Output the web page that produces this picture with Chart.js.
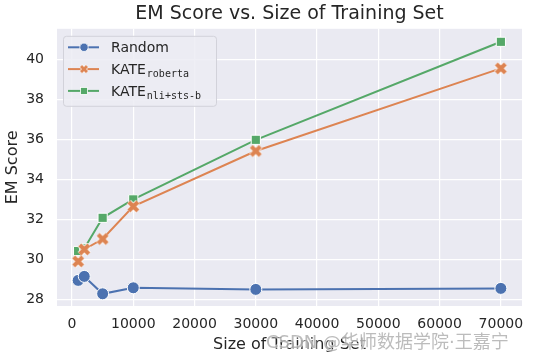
<!DOCTYPE html>
<html lang="zh-CN">
<head>
  <meta charset="UTF-8">
  <title>EM Score vs. Size of Training Set</title>
  <script src="https://cdn.jsdelivr.net/npm/chart.js"></script>
  <style>
    html, body { margin: 0; padding: 0; background: #ffffff; }
    #wrap { width: 534px; height: 360px; position: relative; }
  </style>
</head>
<body>
  <div id="wrap"><canvas id="emChart" width="534" height="360"></canvas></div>

  <script>
    // training set sizes
    const sizes = [1000, 2000, 5000, 10000, 30000, 70000];
    // EM scores
    const randomScores  = [28.95, 29.15, 28.28, 28.58, 28.5, 28.55];
    const robertaScores = [29.9, 30.5, 31.02, 32.65, 35.42, 39.55];
    const nliScores     = [30.42, 30.55, 32.08, 33.0, 35.98, 40.88];
    const xTicks = [0, 10000, 20000, 30000, 40000, 50000, 60000, 70000];
    const yTicks = [28, 30, 32, 34, 36, 38, 40];

    const BLUE = '#4c72b0', ORANGE = '#dd8452', GREEN = '#55a868';
    const FONT = "'DejaVu Sans', sans-serif";
    const TEXT = '#262626';

    // thick "X" marker like matplotlib's 'X', with a white edge
    function makeX(size, color, thick) {
      const c = document.createElement('canvas');
      c.width = size; c.height = size;
      const g = c.getContext('2d');
      const p = size * 0.2, q = size - p;
      g.lineCap = 'butt';
      [['#ffffff', size * (thick + 0.1)], [color, size * thick]].forEach(([col, w]) => {
        g.strokeStyle = col; g.lineWidth = w;
        g.beginPath();
        g.moveTo(p, p); g.lineTo(q, q);
        g.moveTo(q, p); g.lineTo(p, q);
        g.stroke();
      });
      return c;
    }
    const xMarker = makeX(15, ORANGE, 0.28);
    const xMarkerSmall = makeX(10, ORANGE, 0.3);

    const toPoints = ys => sizes.map((s, i) => ({ x: s, y: ys[i] }));

    const bgPlugin = {
      id: 'bg',
      beforeDraw(chart) {
        const { ctx, chartArea: a } = chart;
        ctx.save();
        ctx.fillStyle = '#eaeaf2';
        ctx.fillRect(a.left, a.top, a.right - a.left, a.bottom - a.top);
        ctx.restore();
      }
    };

    // legend with subscripts, drawn over the lines
    const legendRows = [
      { main: 'Random', sub: '', color: BLUE, marker: 'circle' },
      { main: 'KATE', sub: 'roberta', color: ORANGE, marker: 'x' },
      { main: 'KATE', sub: 'nli+sts-b', color: GREEN, marker: 'square' }
    ];
    const legendPlugin = {
      id: 'subLegend',
      afterDatasetsDraw(chart) {
        const ctx = chart.ctx;
        const a = chart.chartArea;
        const bx = a.left + 6, by = a.top + 7, bw = 153, bh = 70;
        ctx.save();
        ctx.beginPath();
        ctx.roundRect(bx + 0.5, by + 0.5, bw, bh, 3);
        ctx.fillStyle = 'rgba(236,236,243,0.85)';
        ctx.fill();
        ctx.strokeStyle = '#d2d2da';
        ctx.lineWidth = 1;
        ctx.stroke();
        legendRows.forEach((r, i) => {
          const cy = by + 11.5 + i * 21.8;
          const lx = bx + 5;
          ctx.strokeStyle = r.color;
          ctx.lineWidth = 2;
          ctx.beginPath();
          ctx.moveTo(lx, cy); ctx.lineTo(lx + 31, cy);
          ctx.stroke();
          const mx = lx + 16;
          ctx.fillStyle = r.color;
          if (r.marker === 'circle') {
            ctx.beginPath(); ctx.arc(mx, cy, 4.2, 0, Math.PI * 2); ctx.fill();
            ctx.strokeStyle = '#fff'; ctx.lineWidth = 0.8; ctx.stroke();
          } else if (r.marker === 'square') {
            ctx.fillRect(mx - 3.5, cy - 3.5, 7, 7);
            ctx.strokeStyle = '#fff'; ctx.lineWidth = 0.8;
            ctx.strokeRect(mx - 3.5, cy - 3.5, 7, 7);
          } else {
            ctx.drawImage(xMarkerSmall, mx - 5, cy - 5);
          }
          ctx.fillStyle = TEXT;
          ctx.textBaseline = 'alphabetic';
          ctx.textAlign = 'left';
          ctx.font = '14px ' + FONT;
          const tx = lx + 43, ty = cy + 5;
          ctx.fillText(r.main, tx, ty);
          if (r.sub) {
            const w = ctx.measureText(r.main).width;
            ctx.font = "10px 'DejaVu Sans Mono', monospace";
            ctx.fillText(r.sub, tx + w + 1, ty + 3);
          }
        });
        ctx.restore();
      }
    };

    const watermarkPlugin = {
      id: 'watermark',
      afterDraw(chart) {
        const ctx = chart.ctx;
        const mark = 'CSDN @华师数据学院·王嘉宁';
        ctx.save();
        ctx.font = "18px 'DejaVu Sans', 'Noto Sans CJK SC', sans-serif";
        ctx.textAlign = 'left';
        ctx.textBaseline = 'alphabetic';
        ctx.lineWidth = 2;
        ctx.strokeStyle = 'rgba(255,255,255,0.6)';
        ctx.strokeText(mark, 266, 348);
        ctx.fillStyle = 'rgba(160,160,160,0.7)';
        ctx.fillText(mark, 266, 348);
        ctx.restore();
      }
    };

    const lineStyle = color => ({
      borderColor: color,
      backgroundColor: color,
      borderWidth: 2,
      pointBorderColor: '#ffffff',
      pointBorderWidth: 1,
      tension: 0,
      fill: false
    });

    const ctx = document.getElementById('emChart').getContext('2d');
    new Chart(ctx, {
      type: 'line',
      data: {
        datasets: [
          Object.assign({ label: 'Random', data: toPoints(randomScores),
            pointStyle: 'circle', pointRadius: 6 }, lineStyle(BLUE)),
          Object.assign({ label: 'KATE roberta', data: toPoints(robertaScores),
            pointStyle: xMarker, pointRadius: 7 }, lineStyle(ORANGE)),
          Object.assign({ label: 'KATE nli+sts-b', data: toPoints(nliScores),
            pointStyle: 'rect', pointRadius: 6.5 }, lineStyle(GREEN))
        ]
      },
      options: {
        responsive: false,
        animation: false,
        events: [],
        layout: { padding: { left: 0, right: 12, top: 0, bottom: 0 } },
        plugins: {
          legend: { display: false },
          tooltip: { enabled: false },
          title: {
            display: true,
            fullSize: false,
            text: 'EM Score vs. Size of Training Set',
            color: TEXT,
            font: { family: FONT, size: 19, weight: 'normal' },
            padding: { top: 3, bottom: 3 }
          }
        },
        scales: {
          x: {
            type: 'linear',
            min: -2450,
            max: 73450,
            afterBuildTicks: s => { s.ticks = xTicks.map(v => ({ value: v })); },
            afterFit: s => { s.height = 54; },
            border: { display: false },
            grid: { color: '#ffffff', lineWidth: 1.2, drawTicks: false },
            ticks: { color: TEXT, padding: 10, maxRotation: 0,
              font: { family: FONT, size: 14 }, callback: v => String(v) },
            title: { display: true, text: 'Size of Training Set', color: TEXT,
              font: { family: FONT, size: 16 }, padding: { top: 0, bottom: 6 } }
          },
          y: {
            min: 27.67,
            max: 41.53,
            afterBuildTicks: s => { s.ticks = yTicks.map(v => ({ value: v })); },
            afterFit: s => { s.width = 57; },
            border: { display: false },
            grid: { color: '#ffffff', lineWidth: 1.2, drawTicks: false },
            ticks: { color: TEXT, padding: 13, font: { family: FONT, size: 14 } },
            title: { display: true, text: 'EM Score', color: TEXT,
              font: { family: FONT, size: 16 }, padding: { top: 3, bottom: 0 } }
          }
        }
      },
      plugins: [bgPlugin, legendPlugin, watermarkPlugin]
    });
  </script>
</body>
</html>
